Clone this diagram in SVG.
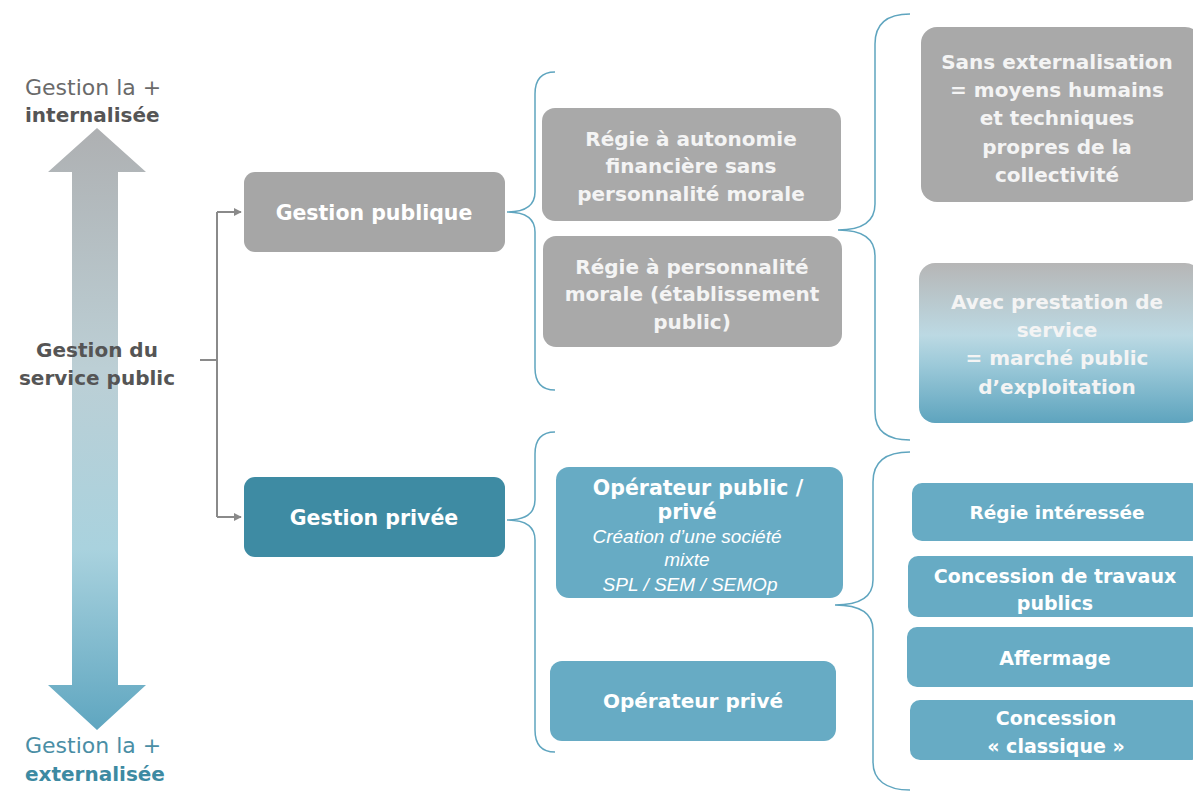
<svg xmlns="http://www.w3.org/2000/svg" width="1193" height="791" viewBox="0 0 1193 791">
<defs>
<linearGradient id="arrowGrad" x1="0" y1="128" x2="0" y2="730" gradientUnits="userSpaceOnUse">
<stop offset="0" stop-color="#aeb0b2"/>
<stop offset="0.4" stop-color="#bccfd5"/>
<stop offset="0.7" stop-color="#a9d2de"/>
<stop offset="1" stop-color="#5fa6c0"/>
</linearGradient>
<linearGradient id="avecGrad" x1="0" y1="0" x2="0" y2="1">
<stop offset="0" stop-color="#b6b6b6"/>
<stop offset="0.45" stop-color="#bcd9e3"/>
<stop offset="0.62" stop-color="#9fcbda"/>
<stop offset="1" stop-color="#5ea4be"/>
</linearGradient>
<marker id="arr" viewBox="0 0 10 10" refX="9" refY="5" markerWidth="4" markerHeight="4" orient="auto">
<path d="M0,0 L10,5 L0,10 z" fill="#8a8a8a"/>
</marker>
<style>
.t{font-family:"DejaVu Sans",sans-serif;font-weight:bold;text-anchor:middle;fill:#ffffff}
.tg{fill:#f4f4f4}
.grey{fill:#a9a9a9}
.teal{fill:#67abc4}
.brace{fill:none;stroke:#5fa5bf;stroke-width:1.5}
.conn{fill:none;stroke:#8a8a8a;stroke-width:2}
.side{font-family:"DejaVu Sans",sans-serif;font-size:20px}
.side.big{font-size:22px}
.it{font-family:"Liberation Sans",sans-serif;font-weight:normal;font-style:italic;text-anchor:middle;fill:#ffffff}
</style>
</defs>
<rect width="1193" height="791" fill="#ffffff"/>

<g id="scale-arrow">
<path d="M97,128 L146,172 L118,172 L118,685 L146,685 L97,730 L48,685 L72,685 L72,172 L48,172 Z" fill="url(#arrowGrad)"/>
<text class="side big" x="25" y="95" fill="#6a6a6a">Gestion la +</text>
<text class="side" x="25" y="122" fill="#555555" font-weight="bold">internalisée</text>
<text class="side big" x="25" y="753" fill="#4a8ea5">Gestion la +</text>
<text class="side" x="25" y="781" fill="#3d8aa2" font-weight="bold">externalisée</text>
</g>

<g id="root">
<text x="97" y="357" class="side" text-anchor="middle" fill="#555555" font-weight="bold">Gestion du</text>
<text x="97" y="385" class="side" text-anchor="middle" fill="#555555" font-weight="bold">service public</text>
</g>

<g id="connectors">
<path class="conn" d="M200,360 L217,360"/>
<path class="conn" d="M217,212 L217,517"/>
<path class="conn" d="M217,212 L241,212" marker-end="url(#arr)"/>
<path class="conn" d="M217,517 L241,517" marker-end="url(#arr)"/>
<path class="brace" d="M555,72 C541,72 535,80 535,94 L535,192 C535,206 524,212 507,212 C524,212 535,218 535,232 L535,368 C535,382 541,390 555,390"/>
<path class="brace" d="M555,432 C541,432 535,440 535,454 L535,500 C535,514 524,520 507,520 C524,520 535,526 535,540 L535,730 C535,744 541,752 555,752"/>
<path class="brace" d="M910,14 C886,14 875,24 875,44 L875,204 C875,222 862,230 838,230 C862,230 875,238 875,256 L875,412 C875,430 886,440 910,440"/>
<path class="brace" d="M910,452 C886,452 873,462 873,482 L873,580 C873,597 860,605 835,605 C860,605 873,613 873,630 L873,762 C873,780 886,790 910,790"/>
</g>

<g id="gestion-publique">
<rect x="244" y="172" width="261" height="80" rx="11" fill="#a6a6a6"/>
<text class="t" x="374" y="220" font-size="20.5">Gestion publique</text>
</g>

<g id="gestion-privee">
<rect x="244" y="477" width="261" height="80" rx="11" fill="#3e8ba3"/>
<text class="t" x="374" y="525" font-size="20.5">Gestion privée</text>
</g>

<g id="regie-autonomie">
<rect x="542" y="108" width="299" height="113" rx="13" class="grey"/>
<text class="t tg" font-size="20"><tspan x="691" y="146">Régie à autonomie</tspan><tspan x="691" y="173">financière sans</tspan><tspan x="691" y="201">personnalité morale</tspan></text>
</g>

<g id="regie-personnalite">
<rect x="543" y="236" width="299" height="111" rx="13" class="grey"/>
<text class="t tg" font-size="20"><tspan x="692" y="274">Régie à personnalité</tspan><tspan x="692" y="301">morale (établissement</tspan><tspan x="692" y="329">public)</tspan></text>
</g>

<g id="sans-externalisation">
<rect x="921" y="27" width="280" height="175" rx="16" class="grey"/>
<text class="t tg" font-size="20"><tspan x="1057" y="69">Sans externalisation</tspan><tspan x="1057" y="97">= moyens humains</tspan><tspan x="1057" y="125">et techniques</tspan><tspan x="1057" y="154">propres de la</tspan><tspan x="1057" y="182">collectivité</tspan></text>
</g>

<g id="avec-prestation">
<rect x="919" y="263" width="282" height="160" rx="16" fill="url(#avecGrad)"/>
<text class="t tg" font-size="20"><tspan x="1057" y="309">Avec prestation de</tspan><tspan x="1057" y="337">service</tspan><tspan x="1057" y="365">= marché public</tspan><tspan x="1057" y="394">d’exploitation</tspan></text>
</g>

<g id="operateur-public-prive">
<rect x="556" y="467" width="287" height="131" rx="13" class="teal"/>
<text class="t" font-size="20.5"><tspan x="698" y="495">Opérateur public /</tspan><tspan x="687" y="519">privé</tspan></text>
<text class="it" font-size="19"><tspan x="687" y="543">Création d’une société</tspan><tspan x="687" y="566">mixte</tspan><tspan x="690" y="591">SPL / SEM / SEMOp</tspan></text>
</g>

<g id="operateur-prive">
<rect x="550" y="661" width="286" height="80" rx="12" class="teal"/>
<text class="t" x="693" y="708" font-size="20">Opérateur privé</text>
</g>

<g id="regie-interessee">
<rect x="912" y="483" width="289" height="58" rx="10" class="teal"/>
<text class="t" x="1057" y="519" font-size="18.5">Régie intéressée</text>
</g>

<g id="concession-travaux">
<rect x="908" y="556" width="293" height="61" rx="10" class="teal"/>
<text class="t" font-size="19"><tspan x="1055" y="583">Concession de travaux</tspan><tspan x="1055" y="610">publics</tspan></text>
</g>

<g id="affermage">
<rect x="907" y="627" width="294" height="60" rx="10" class="teal"/>
<text class="t" x="1055" y="665" font-size="19">Affermage</text>
</g>

<g id="concession-classique">
<rect x="910" y="700" width="291" height="60" rx="10" class="teal"/>
<text class="t" font-size="19"><tspan x="1056" y="725">Concession</tspan><tspan x="1056" y="753">« classique »</tspan></text>
</g>
</svg>
